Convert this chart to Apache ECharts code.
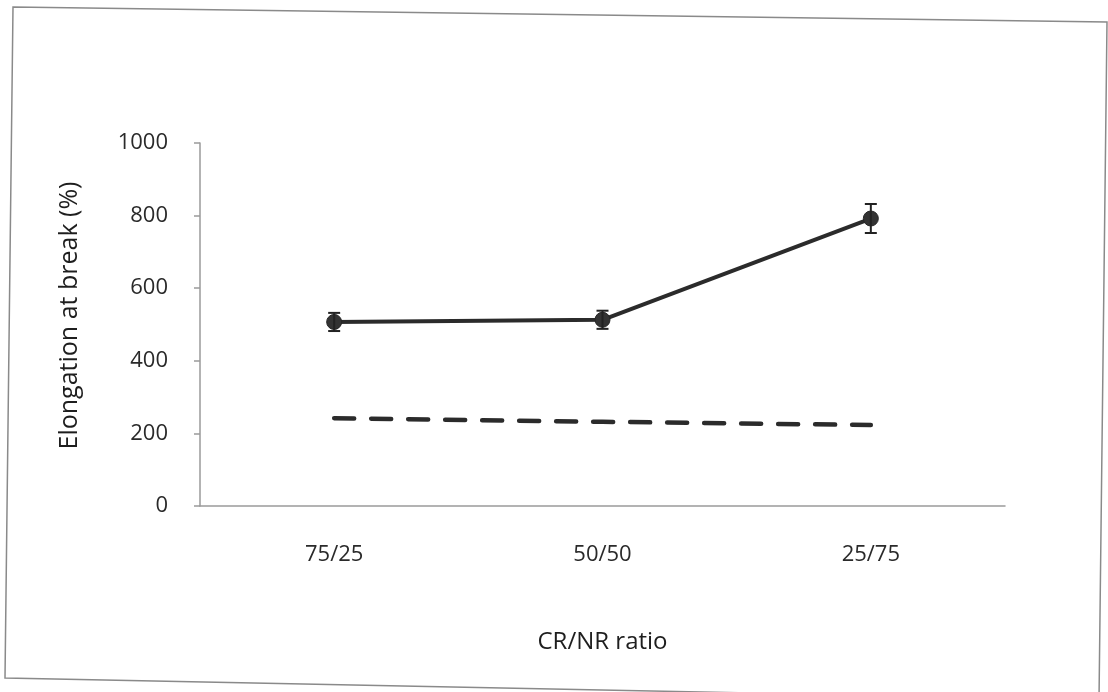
<!DOCTYPE html>
<html>
<head>
<meta charset="utf-8">
<title>Elongation at break vs CR/NR ratio</title>
<script src="https://cdn.jsdelivr.net/npm/echarts@6/dist/echarts.min.js"></script>
<style>
  html, body { margin: 0; padding: 0; background: #ffffff; }
  #chart { width: 1108px; height: 692px; }
</style>
</head>
<body>
<div id="chart"></div>
<script>
// CR/NR blend ratios
const ratios = ['75/25', '50/50', '25/75'];
// Elongation at break (%) of the blends, with standard deviations
const elongation = [507, 513, 792];
const elongationErr = [25, 25, 40];
// Reference level (dashed line)
const referenceLevel = [242, 232, 223];
// Y axis range
const yMin = 0, yMax = 1000, yStep = 200;

const chart = echarts.init(document.getElementById('chart'), null, { renderer: 'canvas' });

const errorData = elongation.map((v, i) => [i, v - elongationErr[i], v + elongationErr[i]]);

const option = {
  backgroundColor: '#ffffff',
  animation: false,
  grid: { left: 200, right: 103, top: 143, bottom: 186 },
  graphic: [{
    type: 'polygon',
    silent: true,
    shape: { points: [[13, 7], [1107, 22], [1099, 700], [5, 678]] },
    style: { fill: 'none', stroke: '#8a8a8a', lineWidth: 1.5 }
  }],
  xAxis: {
    type: 'category',
    data: ratios,
    boundaryGap: true,
    name: 'CR/NR ratio',
    nameLocation: 'middle',
    nameGap: 124,
    nameTextStyle: { fontFamily: 'Open Sans', fontSize: 24, color: '#1e1e1e' },
    axisLine: { lineStyle: { color: '#9a9a9a', width: 1.5 } },
    axisTick: { alignWithLabel: true, length: 6, lineStyle: { color: '#9a9a9a', width: 1.5 } },
    axisLabel: { fontFamily: 'Open Sans', fontSize: 22, color: '#2a2a2a', margin: 38 },
    splitLine: { show: false }
  },
  yAxis: {
    type: 'value',
    min: yMin,
    max: yMax,
    interval: yStep,
    name: 'Elongation at break (%)',
    nameLocation: 'middle',
    nameGap: 118,
    nameTextStyle: { fontFamily: 'Open Sans', fontSize: 25, color: '#1e1e1e', padding: [0, 0, 0, 18] },
    axisLine: { show: true, lineStyle: { color: '#9a9a9a', width: 1.5 } },
    axisTick: { show: true, length: 6, lineStyle: { color: '#9a9a9a', width: 1.5 } },
    axisLabel: {
      fontFamily: 'Open Sans', fontSize: 22, color: '#2a2a2a', margin: 32,
      formatter: function (v) { return String(v); }
    },
    splitLine: { show: false }
  },
  series: [
    {
      name: 'Reference',
      type: 'line',
      data: referenceLevel,
      symbol: 'none',
      lineStyle: { color: '#2b2b2b', width: 4.5, type: [20, 17], cap: 'round' },
      z: 2
    },
    {
      name: 'Elongation at break',
      type: 'line',
      data: elongation,
      symbol: 'circle',
      symbolSize: 15,
      itemStyle: { color: '#333333', borderColor: '#262626', borderWidth: 1 },
      lineStyle: { color: '#2b2b2b', width: 4 },
      z: 3
    },
    {
      name: 'Error',
      type: 'custom',
      data: errorData,
      z: 4,
      renderItem: function (params, api) {
        const x = api.value(0);
        const lo = api.coord([x, api.value(1)]);
        const hi = api.coord([x, api.value(2)]);
        const half = 6;
        const style = { stroke: '#222222', lineWidth: 2 };
        return {
          type: 'group',
          children: [
            { type: 'line', shape: { x1: lo[0], y1: lo[1], x2: hi[0], y2: hi[1] }, style: style },
            { type: 'line', shape: { x1: hi[0] - half, y1: hi[1], x2: hi[0] + half, y2: hi[1] }, style: style },
            { type: 'line', shape: { x1: lo[0] - half, y1: lo[1], x2: lo[0] + half, y2: lo[1] }, style: style }
          ]
        };
      }
    }
  ]
};

chart.setOption(option);
</script>
</body>
</html>
